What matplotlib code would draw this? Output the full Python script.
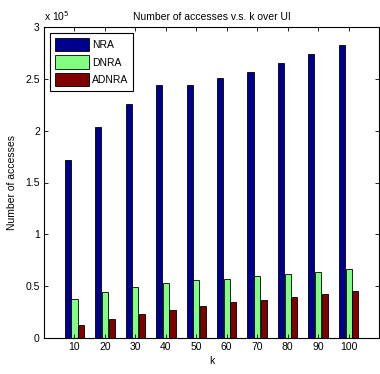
import numpy as np
import matplotlib
matplotlib.use("Agg")
import matplotlib.pyplot as plt

plt.rcParams['font.family'] = ['Liberation Sans', 'DejaVu Sans']

k = [10, 20, 30, 40, 50, 60, 70, 80, 90, 100]
# accesses in units of 1e5
nra = [1.72, 2.04, 2.26, 2.44, 2.44, 2.51, 2.57, 2.65, 2.74, 2.83]
dnra = [0.38, 0.44, 0.49, 0.535, 0.555, 0.57, 0.60, 0.62, 0.64, 0.67]
adnra = [0.125, 0.185, 0.235, 0.27, 0.31, 0.345, 0.37, 0.395, 0.425, 0.45]

fig = plt.figure(figsize=(3.8, 3.74), dpi=100)
ax = fig.add_axes([44/380, 36/374, 335/380, 311/374])

x = np.arange(1, len(k) + 1)
w = 0.2
off = 0.22
ax.bar(x - off, nra, w, color='#00008F', edgecolor='black', linewidth=0.6, label='NRA')
ax.bar(x, dnra, w, color='#80FF80', edgecolor='black', linewidth=0.6, label='DNRA')
ax.bar(x + off, adnra, w, color='#800000', edgecolor='black', linewidth=0.6, label='ADNRA')

ax.set_xlim(0, 11)
ax.set_ylim(0, 3)
ax.set_xticks(x)
ax.set_xticklabels([str(v) for v in k])
ax.set_yticks([0, 0.5, 1, 1.5, 2, 2.5, 3])
ax.set_yticklabels(['0', '0.5', '1', '1.5', '2', '2.5', '3'])
ax.tick_params(direction='in', top=True, right=True, length=3, width=0.6,
               labelsize=7.5, pad=3)
for s in ax.spines.values():
    s.set_linewidth(0.8)

ax.set_title('Number of accesses v.s. k over UI', fontsize=7.5, pad=5)
ax.set_xlabel('k', fontsize=7.5, labelpad=3)
ax.set_ylabel('Number of accesses', fontsize=7.5, labelpad=6)
ax.text(0.0, 1.012, r'x 10$^5$', transform=ax.transAxes, fontsize=7.5,
        ha='left', va='bottom')

leg = ax.legend(loc='upper left', fontsize=7.5, fancybox=False, framealpha=1,
                edgecolor='black', handlelength=3.3, handleheight=1.6,
                borderpad=0.45, labelspacing=0.4, handletextpad=0.3,
                borderaxespad=0.6)
leg.get_frame().set_linewidth(0.8)

fig.savefig('out.png', dpi=100)
